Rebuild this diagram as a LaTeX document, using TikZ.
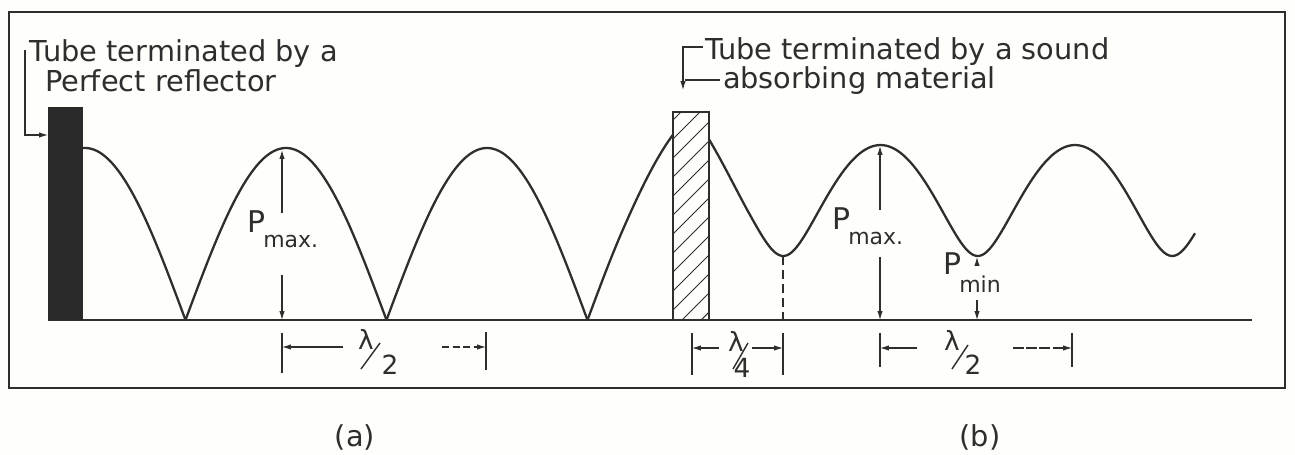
\documentclass[tikz,border=0pt]{standalone}
\usepackage{fontspec}
\setmainfont{DejaVu Sans}
\usetikzlibrary{arrows.meta}
\definecolor{ink}{HTML}{2E2E2E}
\definecolor{paper}{HTML}{FEFEFA}
\begin{document}
\begin{tikzpicture}[x=0.02cm,y=-0.02cm,
  curve/.style={ink, line width=1.3pt, line join=round},
  frameline/.style={ink, line width=0.9pt},
  dimline/.style={ink, line width=0.6pt},
  tipend/.style={-{Latex[length=5pt,width=3pt]}},
  lbl/.style={inner sep=0pt, outer sep=0pt, font=\fontsize{16.4}{20}\selectfont, text=ink},
  sym/.style={inner sep=0pt, outer sep=0pt, font=\fontsize{15}{18}\selectfont, text=ink},
]
% background and bounding box
\fill[paper] (0,0) rectangle (1295,455);
\useasboundingbox (0,0) rectangle (1295,455);

% frame
\draw[frameline] (9,12) rectangle (1285,388);

% base line
\draw[ink, line width=1pt] (48,320) -- (1252,320);

% ---------- (a) perfect reflector ----------
\fill[ink!92!black] (48,107) rectangle (83,320);
\coordinate (reflW) at (48,135);
\foreach \a/\b in {83/185.5,185.5/386.5,386.5/587.5}{
  \draw[curve] plot[domain=\a:\b, samples=80, variable=\x]
     (\x, {320-172*abs(cos((\x-85)*0.89552))});
}
\draw[curve] plot[domain=587.5:673, samples=80, variable=\x]
   (\x, {320-172*abs(cos((\x-85)*0.89552)) - 18*(max(0,1-(673-\x)/50))^2});

% label (a)
\node[lbl, anchor=base west] (ta1) at (30,62) {Tube terminated by a};
\node[lbl, anchor=base west] (ta2) at (45,92) {Perfect reflector};
\coordinate (la0) at (25,50);
\coordinate (la1) at (25,135);
\draw[dimline, tipend] (la0) -- (la1) -- (reflW);

% Pmax (a)
\node[sym, anchor=base west] (pmaxa) at (247,233)
  {{\fontsize{17}{18}\selectfont P}\kern-1pt\raisebox{-8.5pt}{\fontsize{12.5}{14}\selectfont max.}};
\coordinate (pka) at (282,150);
\coordinate (pkaB) at (282,320);
\draw[dimline, tipend] (282,213) -- (pka);
\draw[dimline, tipend] (282,275) -- (pkaB);

% lambda/2 (a)
\coordinate (da1) at (282,347);
\coordinate (da2) at (486,347);
\draw[dimline] (282,333) -- (282,373);
\draw[dimline] (486,332) -- (486,370);
\draw[dimline, tipend] (343,347) -- (da1);
\draw[dimline, tipend, dash pattern=on 4pt off 2pt] (442,347) -- (da2);
\node[sym] (lama) at (366,339) {λ};
\draw[dimline, line width=0.8pt] (361,369) -- (380,343);
\node[sym] (twoa) at (390,365) {2};

% ---------- (b) absorbing material ----------
\begin{scope}
  \clip (673,112) rectangle (709,320);
  \foreach \c in {120,139,...,400}
    \draw[ink, line width=0.6pt] (673,\c) -- ++(36,-36);
\end{scope}
\draw[ink, line width=0.9pt, fill=none] (673,112) rectangle (709,320);

\draw[curve] plot[domain=709:1195, samples=300, variable=\x]
   (\x, {320-119.5*sqrt(1.215+0.928*cos((\x-686)*1.85090)) - 16*(max(0,1-(\x-709)/40))^2});

% label (b)
\node[lbl, anchor=base west] (tb1) at (705,60) {Tube terminated by a sound};
\node[lbl, anchor=base west] (tb2) at (723,89) {absorbing material};
\coordinate (lb0) at (703,47);
\coordinate (lb1) at (683,47);
\coordinate (lb2) at (683,90);
\coordinate (lb3) at (685,80);
\coordinate (lb4) at (720,80);
\draw[dimline, tipend] (lb0) -- (lb1) -- (lb2);
\draw[dimline] (lb3) -- (lb4);

% dashed drop from first minimum
\coordinate (minb) at (783,256);
\draw[dimline, dash pattern=on 5pt off 3pt] (minb) -- (783,320);

% lambda/4
\draw[dimline] (692,333) -- (692,375);
\draw[dimline] (783,333) -- (783,375);
\coordinate (dq1) at (692,348);
\coordinate (dq2) at (783,348);
\draw[dimline, tipend] (719,348) -- (dq1);
\draw[dimline, tipend] (752,348) -- (dq2);
\node[sym] (lamq) at (736,341) {λ};
\draw[dimline, line width=0.8pt] (733,369) -- (748,343);
\node[sym] (fourq) at (742,368) {4};

% Pmax (b)
\node[sym, anchor=base west] (pmaxb) at (832,230)
  {{\fontsize{17}{18}\selectfont P}\kern-1pt\raisebox{-8.5pt}{\fontsize{12.5}{14}\selectfont max.}};
\coordinate (pkb) at (880,146);
\coordinate (pkbB) at (880,320);
\draw[dimline, tipend] (880,210) -- (pkb);
\draw[dimline, tipend] (880,257) -- (pkbB);

% Pmin
\node[sym, anchor=base west] (pmin) at (943,275)
  {{\fontsize{17}{18}\selectfont P}\kern-1pt\raisebox{-10pt}{\fontsize{12.5}{14}\selectfont min}};
\coordinate (mnb) at (977,257);
\coordinate (mnbB) at (977,320);
\draw[dimline, tipend] (977,266) -- (mnb);
\draw[dimline, tipend] (977,300) -- (mnbB);

% lambda/2 (b)
\draw[dimline] (880,333) -- (880,367);
\draw[dimline] (1072,333) -- (1072,367);
\coordinate (db1) at (880,348);
\coordinate (db2) at (1072,348);
\draw[dimline, tipend] (917,348) -- (db1);
\draw[dimline, tipend, dash pattern=on 6pt off 1.5pt] (1013,348) -- (db2);
\node[sym] (lamb) at (952,340) {λ};
\draw[dimline, line width=0.8pt] (952,369) -- (968,345);
\node[sym] (twob) at (973,365) {2};

% captions
\node[lbl] (capa) at (355,437) {(a)};
\node[lbl] (capb) at (980,437) {(b)};
\end{tikzpicture}
\end{document}
